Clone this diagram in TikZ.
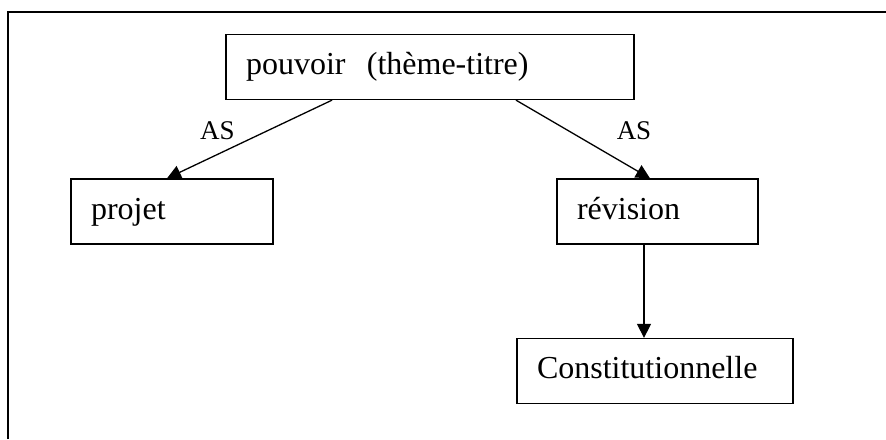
\documentclass[tikz,border=0pt]{standalone}
\usepackage{fontspec}
\setmainfont{Liberation Serif}
\usetikzlibrary{arrows.meta}
\tikzset{
  term/.style={
    draw, rectangle, color=black, line width=1.3pt,
    inner xsep=20pt, align=left, minimum height=65pt,
    text height=22pt, text depth=7pt,
    font=\fontsize{32}{38}\selectfont
  },
  link/.style={
    draw, -{Triangle[length=14pt,width=14pt]}, color=black, line width=1.3pt
  },
  relname/.style={
    inner sep=0pt, font=\fontsize{27}{32}\selectfont
  },
  pageframe/.style={
    draw, color=black, line width=2.3pt
  }
}

\begin{document}
\begin{tikzpicture}[x=1pt, y=-1pt]
        \useasboundingbox (0,0) rectangle (886,439);
        \draw[pageframe] (8,439) -- (8,12) -- (886,12);

        \node[term, text width=368pt] (theme) at (430,67) {pouvoir\ \ (thème-titre)};
        \node[term, text width=162pt] (projet) at (172,211.5) {projet};
        \node[term, text width=161pt] (revision) at (657.5,211.5) {révision};
        \node[term, text width=236pt] (constit) at (655,371) {Constitutionnelle};

        \node[relname] (asleft) at (217.5,131) {AS};
        \node[relname] (asright) at (634,131) {AS};

        \draw[link] ([xshift=-98pt]theme.south) -- ([xshift=-5pt]projet.north);
        \draw[link] ([xshift=86pt]theme.south) -- ([xshift=-7.5pt]revision.north);
        \draw[link] ([xshift=-13.5pt]revision.south) -- ([xshift=-13.5pt]revision.south |- constit.north);
      \end{tikzpicture}
\end{document}
